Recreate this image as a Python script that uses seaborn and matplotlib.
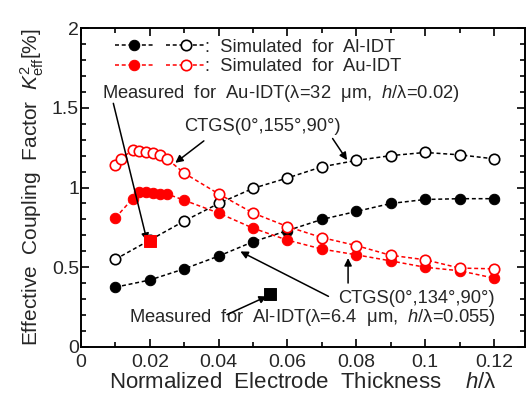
import matplotlib
matplotlib.use("Agg")
import matplotlib.pyplot as plt
import seaborn as sns
from matplotlib.legend_handler import HandlerTuple
from matplotlib.ticker import MultipleLocator

# simulated K2 for Al-IDT
x_al = [0.01, 0.02, 0.03, 0.04, 0.05, 0.06, 0.07, 0.08, 0.09, 0.10, 0.11, 0.12]
al_134 = [0.375, 0.42, 0.49, 0.57, 0.66, 0.73, 0.80, 0.85, 0.90, 0.925, 0.93, 0.93]
al_155 = [0.55, 0.67, 0.79, 0.90, 0.995, 1.06, 1.13, 1.17, 1.20, 1.22, 1.205, 1.18]

# simulated K2 for Au-IDT
x_au_155 = [0.01, 0.0115, 0.015, 0.017, 0.019, 0.021, 0.023, 0.025, 0.03,
            0.04, 0.05, 0.06, 0.07, 0.08, 0.09, 0.10, 0.11, 0.12]
au_155 = [1.14, 1.18, 1.235, 1.232, 1.224, 1.214, 1.203, 1.18, 1.09,
          0.96, 0.84, 0.755, 0.686, 0.636, 0.575, 0.547, 0.495, 0.49]
x_au_134 = [0.01, 0.015, 0.017, 0.019, 0.021, 0.023, 0.025, 0.03,
            0.04, 0.05, 0.06, 0.07, 0.08, 0.09, 0.10, 0.11, 0.12]
au_134 = [0.81, 0.93, 0.97, 0.97, 0.965, 0.962, 0.96, 0.92,
          0.84, 0.745, 0.67, 0.614, 0.578, 0.54, 0.50, 0.478, 0.432]

# measured
meas_au = (0.02, 0.665)
meas_al = (0.055, 0.333)

sns.set_style("ticks")
plt.rcParams["font.family"] = ["Liberation Sans", "DejaVu Sans"]
plt.rcParams["mathtext.fontset"] = "custom"
plt.rcParams["mathtext.rm"] = "Liberation Sans"
plt.rcParams["mathtext.it"] = "Liberation Sans:italic"

fig = plt.figure(figsize=(5.31, 4.01), dpi=100)
ax = fig.add_axes([0.1525, 0.1347, 0.8362, 0.7953])

dash = (0, (2.6, 1.8))
ms = 7.5
lw = 1.1

l_al_f = sns.lineplot(x=x_al, y=al_134, ax=ax, color="black", marker="o", ms=ms,
                      mec="black", mfc="black", linestyle=dash, lw=lw).lines[-1]
l_al_o = sns.lineplot(x=x_al, y=al_155, ax=ax, color="black", marker="o", ms=ms,
                      mec="black", mfc="white", mew=1.2, linestyle=dash, lw=lw).lines[-1]
l_au_f = sns.lineplot(x=x_au_134, y=au_134, ax=ax, color="red", marker="o", ms=ms,
                      mec="red", mfc="red", linestyle=dash, lw=lw).lines[-1]
l_au_o = sns.lineplot(x=x_au_155, y=au_155, ax=ax, color="red", marker="o", ms=ms,
                      mec="red", mfc="white", mew=1.2, linestyle=dash, lw=lw).lines[-1]

sns.scatterplot(x=[meas_au[0]], y=[meas_au[1]], ax=ax, marker="s", s=70,
                color="red", edgecolor="red", zorder=5)
sns.scatterplot(x=[meas_al[0]], y=[meas_al[1]], ax=ax, marker="s", s=70,
                color="black", edgecolor="black", zorder=5)

ax.set_xlim(0, 0.129)
ax.set_ylim(0, 2)
ax.xaxis.set_major_locator(MultipleLocator(0.02))
ax.xaxis.set_minor_locator(MultipleLocator(0.01))
ax.yaxis.set_major_locator(MultipleLocator(0.5))
ax.yaxis.set_minor_locator(MultipleLocator(0.1))
ax.set_xticks([0, 0.02, 0.04, 0.06, 0.08, 0.1, 0.12])
ax.set_xticklabels(["0", "0.02", "0.04", "0.06", "0.08", "0.1", "0.12"])
ax.set_yticks([0, 0.5, 1, 1.5, 2])
ax.set_yticklabels(["0", "0.5", "1", "1.5", "2"])
ax.tick_params(which="both", direction="in", top=True, right=True, labelsize=14,
               width=1.2, color="black")
ax.tick_params(which="major", length=6)
ax.tick_params(axis="x", which="major", pad=5)
ax.tick_params(axis="y", which="major", pad=1.5)
ax.tick_params(which="minor", length=3.5)
for s in ax.spines.values():
    s.set_linewidth(1.4)
    s.set_color("black")

ax.set_xlabel(r"Normalized  Electrode  Thickness    $h$/λ", fontsize=16, labelpad=1)
ax.set_ylabel(r"Effective  Coupling  Factor  $K^2_{\rm eff}$[%]", fontsize=15, labelpad=4)

fs = 13.2
leg = ax.legend([(l_al_f, l_al_o), (l_au_f, l_au_o)],
                [":  Simulated  for  Al-IDT", ":  Simulated  for  Au-IDT"],
                handler_map={tuple: HandlerTuple(ndivide=None, pad=0.7)},
                loc="upper left", bbox_to_anchor=(0.06, 0.99), frameon=False,
                fontsize=fs, handlelength=4.9, handletextpad=0.0,
                labelspacing=0.15, numpoints=1, borderaxespad=0)

arrow = dict(arrowstyle="-|>", color="black", lw=1.1, shrinkA=0, shrinkB=0,
             mutation_scale=11)

ax.text(0.0582, 1.59, "Measured  for  Au-IDT(λ=32  μm,  $h$/λ=0.02)",
        ha="center", va="center", fontsize=fs)
ax.annotate("", xy=(0.0192, 0.665), xytext=(0.0094, 1.528), arrowprops=arrow)

ax.text(0.0528, 1.384, "CTGS(0°,155°,90°)", ha="center", va="center", fontsize=fs)
ax.annotate("", xy=(0.0274, 1.155), xytext=(0.0357, 1.2925), arrowprops=arrow)
ax.annotate("", xy=(0.0773, 1.172), xytext=(0.0731, 1.3075), arrowprops=arrow)

ax.text(0.0974, 0.305, "CTGS(0°,134°,90°)", ha="center", va="center", fontsize=fs)
ax.annotate("", xy=(0.0463, 0.599), xytext=(0.0719, 0.3175), arrowprops=arrow)
ax.annotate("", xy=(0.0776, 0.5575), xytext=(0.0776, 0.401), arrowprops=arrow)

ax.text(0.0673, 0.186, "Measured  for  Al-IDT(λ=6.4  μm,  $h$/λ=0.055)",
        ha="center", va="center", fontsize=fs)
ax.annotate("", xy=(0.0540, 0.3175), xytext=(0.0424, 0.203), arrowprops=arrow)

fig.savefig("out.png", dpi=100)
